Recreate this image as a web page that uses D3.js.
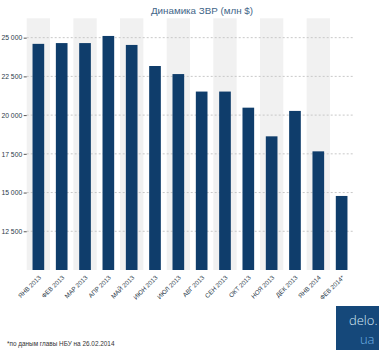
<!DOCTYPE html>
<html><head><meta charset="utf-8">
<script src="https://cdn.jsdelivr.net/npm/d3@7"></script>
<style>
body{margin:0;background:#fff;}
svg{display:block;font-family:"Liberation Sans",Arial,sans-serif;}
</style></head>
<body><svg id="c" width="382" height="353"></svg>
<script>
const categories = ["ЯНВ 2013","ФЕВ 2013","МАР 2013","АПР 2013","МАЙ 2013","ИЮН 2013","ИЮЛ 2013","АВГ 2013","СЕН 2013","ОКТ 2013","НОЯ 2013","ДЕК 2013","ЯНВ 2014","ФЕВ 2014*"];
const values = [24600,24650,24650,25110,24530,23170,22650,21520,21520,20480,18630,20270,17660,14780];
const yTicks = [12500,15000,17500,20000,22500,25000];
const title = "Динамика ЗВР (млн $)";
const note = "*по даным главы НБУ на 26.02.2014";

(function(){
const svg = d3.select("#c");
const mLeft = 26.7, mRight = 353.3, mTop = 18.3, mBottom = 270;
const x = d3.scaleBand().domain(categories).range([mLeft, mRight]).paddingInner(0).paddingOuter(0);
const y = d3.scaleLinear().domain([10000, 26250]).range([mBottom, mTop]);

svg.append("g").selectAll("rect").data(categories.filter((d,i)=>i%2===0)).join("rect")
  .attr("x", d=>x(d)).attr("y", mTop).attr("width", x.bandwidth()).attr("height", mBottom-mTop)
  .attr("fill", "#f1f1f1");

svg.append("g").selectAll("line").data(yTicks).join("line")
  .attr("x1", mLeft).attr("x2", mRight).attr("y1", d=>y(d)).attr("y2", d=>y(d))
  .attr("stroke", "#c8c8c8").attr("stroke-width", 1).attr("stroke-dasharray", "2,2");

const bw = x.bandwidth()*0.5;
svg.append("g").selectAll("rect").data(values).join("rect")
  .attr("x", (d,i)=>x(categories[i]) + (x.bandwidth()-bw)/2)
  .attr("y", d=>y(d)).attr("width", bw).attr("height", d=>mBottom-y(d))
  .attr("fill", "#0f3d6b");

const yAxis = d3.axisLeft(y).tickValues(yTicks).tickSize(3).tickPadding(1.5)
  .tickFormat(d=>d3.format(",")(d).replace(",", " "));
const ga = svg.append("g").attr("transform", `translate(${mLeft},0)`).call(yAxis);
ga.select(".domain").remove();
ga.selectAll(".tick line").attr("stroke", "#555");
ga.selectAll("text").attr("font-size", 6.8).attr("fill", "#2b3a4a");

const xAxis = d3.axisBottom(x).tickSize(0).tickPadding(0);
const gx = svg.append("g").attr("transform", `translate(0,${mBottom})`).call(xAxis);
gx.select(".domain").remove();
gx.selectAll("text")
  .attr("font-size", 6.3).attr("fill", "#2b3a4a")
  .attr("text-anchor", "end")
  .attr("dy", "0")
  .attr("transform", "translate(3,8) rotate(-45)");

svg.append("text").attr("x", 202).attr("y", 14).attr("text-anchor", "middle")
  .attr("font-size", 9.8).attr("fill", "#3f6588").text(title);

svg.append("text").attr("x", 7).attr("y", 346).attr("font-size", 6.4).attr("fill", "#333").text(note);

const lg = svg.append("g").attr("transform", "translate(336,306)");
lg.append("rect").attr("width", 43).attr("height", 44).attr("fill", "#15487a");
lg.append("text").attr("x", 41.5).attr("y", 19).attr("text-anchor", "end").attr("font-size", 13)
  .attr("fill", "#d5e8f6").attr("font-family", "'Open Sans', Lato, sans-serif").attr("font-weight", 300).text("delo.");
lg.append("text").attr("x", 38.5).attr("y", 38).attr("text-anchor", "end").attr("font-size", 13)
  .attr("fill", "#6fb2e6").attr("font-family", "'Open Sans', Lato, sans-serif").attr("font-weight", 300).text("ua");
})();
</script></body></html>
